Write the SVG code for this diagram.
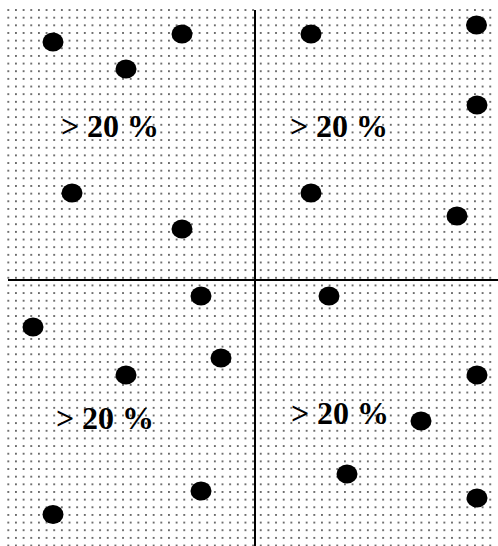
<svg xmlns="http://www.w3.org/2000/svg" width="498" height="546" viewBox="0 0 498 546">
<style>
.blob{fill:#000}
.lbl{font-family:"Liberation Serif","Times New Roman",serif;font-weight:bold;font-size:32px;fill:#000}
.axis{stroke:#000;stroke-width:2;fill:none}
</style>
<defs>
<pattern id="dots" patternUnits="userSpaceOnUse" x="4.5" y="6.2" width="7.65" height="7.65">
<circle cx="3.8" cy="3.8" r="1" fill="#444"/>
</pattern>
</defs>
<rect width="498" height="546" fill="#fff"/>
<rect x="4" y="6" width="492" height="540" fill="url(#dots)"/>
<g id="quadrant-tl">
<ellipse class="blob" cx="53" cy="42" rx="10.5" ry="9.5"/>
<ellipse class="blob" cx="182" cy="34" rx="10.5" ry="9.5"/>
<ellipse class="blob" cx="126" cy="69" rx="10.5" ry="9.5"/>
<ellipse class="blob" cx="72" cy="193" rx="10.5" ry="9.5"/>
<ellipse class="blob" cx="182" cy="229" rx="10.5" ry="9.5"/>
<text class="lbl" y="137"><tspan x="61">&gt;</tspan><tspan x="87">20 %</tspan></text>
</g>
<g id="quadrant-tr">
<ellipse class="blob" cx="311" cy="34" rx="10.5" ry="9.5"/>
<ellipse class="blob" cx="476.5" cy="25" rx="10.5" ry="9.5"/>
<ellipse class="blob" cx="477" cy="105" rx="10.5" ry="9.5"/>
<ellipse class="blob" cx="311" cy="193" rx="10.5" ry="9.5"/>
<ellipse class="blob" cx="457" cy="216" rx="10.5" ry="9.5"/>
<text class="lbl" y="137"><tspan x="290">&gt;</tspan><tspan x="316">20 %</tspan></text>
</g>
<g id="quadrant-bl">
<ellipse class="blob" cx="201" cy="296" rx="10.5" ry="9.5"/>
<ellipse class="blob" cx="33" cy="327" rx="10.5" ry="9.5"/>
<ellipse class="blob" cx="221" cy="358" rx="10.5" ry="9.5"/>
<ellipse class="blob" cx="126" cy="375" rx="10.5" ry="9.5"/>
<ellipse class="blob" cx="201" cy="491" rx="10.5" ry="9.5"/>
<ellipse class="blob" cx="53" cy="514.5" rx="10.5" ry="9.5"/>
<text class="lbl" y="429"><tspan x="56">&gt;</tspan><tspan x="82">20 %</tspan></text>
</g>
<g id="quadrant-br">
<ellipse class="blob" cx="329" cy="296" rx="10.5" ry="9.5"/>
<ellipse class="blob" cx="477" cy="375" rx="10.5" ry="9.5"/>
<ellipse class="blob" cx="421" cy="421" rx="10.5" ry="9.5"/>
<ellipse class="blob" cx="347" cy="474" rx="10.5" ry="9.5"/>
<ellipse class="blob" cx="477" cy="498" rx="10.5" ry="9.5"/>
<text class="lbl" y="424"><tspan x="291">&gt;</tspan><tspan x="317">20 %</tspan></text>
</g>
<g id="connectors">
<line class="axis" x1="255" y1="10" x2="255" y2="546"/>
<line class="axis" x1="8" y1="280" x2="498" y2="280"/>
</g>
</svg>
